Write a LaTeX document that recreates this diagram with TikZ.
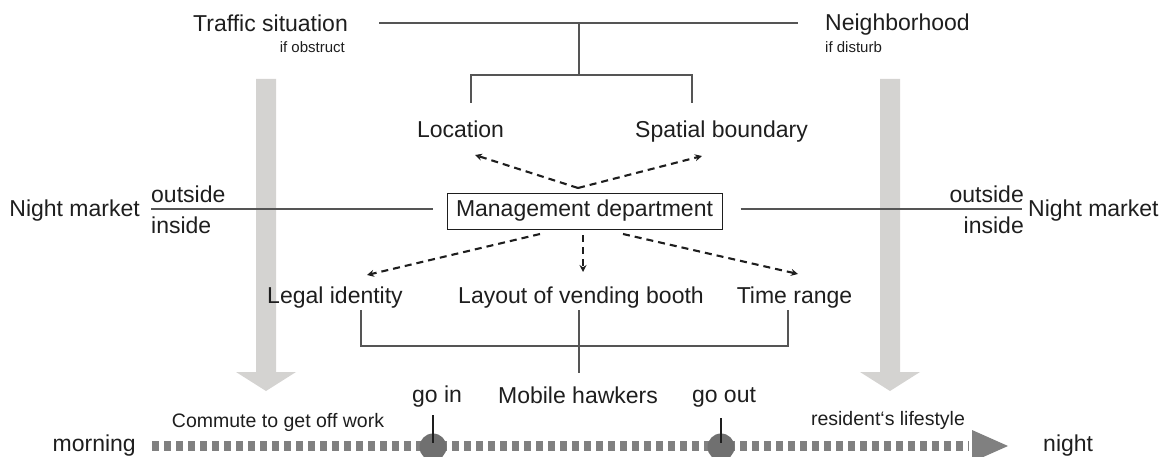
\documentclass[tikz,border=0pt]{standalone}
\usepackage{fontspec}
\setmainfont{Liberation Sans}
\usetikzlibrary{arrows.meta}
\definecolor{inkc}{HTML}{1E1E1E}
\definecolor{rulec}{HTML}{555555}
\definecolor{flowc}{HTML}{D4D3D1}
\definecolor{timec}{HTML}{808080}
\definecolor{dotc}{HTML}{707070}
\tikzset{
  lbl/.style={inner sep=0pt, text=inkc, font=\fontsize{23}{27}\selectfont, anchor=base},
  lblmid/.style={lbl, font=\fontsize{19.5}{23}\selectfont},
  lblsmall/.style={lbl, font=\fontsize{15}{18}\selectfont},
  rule/.style={draw=rulec, line width=1.2pt},
  dasharrow/.style={draw=inkc, line width=2.1pt, dash pattern=on 7pt off 5pt,
    -{Stealth[length=7pt,width=7pt]}},
  flow/.style={fill=flowc, draw=none},
  timeline/.style={draw=timec, line width=10pt, dash pattern=on 7pt off 5pt},
  event/.style={circle, fill=dotc, draw=none, minimum size=27pt, inner sep=0pt},
  tick/.style={draw=inkc, line width=1.2pt},
}
\begin{document}
\begin{tikzpicture}[x=1pt, y=-1pt]
\useasboundingbox (0,0) rectangle (1174,457);

% broad grey flow arrows (morning to night)
\fill[flow] (256,79) -- (276,79) -- (276,372) -- (296,372) -- (266,391) -- (236,372) -- (256,372) -- cycle;
\fill[flow] (880,79) -- (900,79) -- (900,372) -- (920,372) -- (890,391) -- (860,372) -- (880,372) -- cycle;

% top row
\node[lbl] (traffic) at (270.5,32) {Traffic situation};
\node[lblsmall, anchor=base east] (obstruct) at (345,53) {if obstruct};
\node[lbl, anchor=base west] (neigh) at (825,31) {Neighborhood};
\node[lblsmall, anchor=base west] (disturb) at (825,53) {if disturb};
\coordinate (topL) at (379,23);
\coordinate (topR) at (798,23);
\coordinate (topM) at (579,23);
\coordinate (brkM) at (579,75);
\draw[rule] (topL) -- (topR);
\draw[rule] (topM) -- (brkM);

% spatial aspects
\node[lbl] (loc) at (460.5,138) {Location};
\node[lbl] (spat) at (721.5,138) {Spatial boundary};
\coordinate (locT) at (471,103);
\coordinate (spatT) at (692,103);
\draw[rule] (locT) |- (brkM) -| (spatT);

% management
\node[draw=inkc, line width=1pt, minimum width=275pt, minimum height=36pt,
      inner sep=0pt, text=inkc, font=\fontsize{23}{27}\selectfont]
      (mgmt) at (584.5,211) {Management department};
\coordinate (apex) at (578,188);
\coordinate (locA) at (475,155);
\coordinate (spatA) at (702,156);
\draw[dasharrow] (apex) -- (locA);
\draw[dasharrow] (apex) -- (spatA);

% night market boundaries
\node[lbl, anchor=base east] (nmL) at (140,216) {Night market};
\node[lbl, anchor=base west] (outL) at (151,202) {outside};
\node[lbl, anchor=base west] (inL) at (151,233) {inside};
\node[lbl, anchor=base west] (nmR) at (1028,216) {Night market};
\node[lbl, anchor=base east] (outR) at (1024,202) {outside};
\node[lbl, anchor=base east] (inR) at (1024,233) {inside};
\coordinate (lineL) at (151,209);
\coordinate (lineR) at (1022,209);
\draw[rule] (lineL) -- ([xshift=-14pt]mgmt.west |- lineL);
\draw[rule] ([xshift=18pt]mgmt.east |- lineR) -- (lineR);

% regulated items
\node[lbl] (legal) at (335,303) {Legal identity};
\node[lbl] (layout) at (581,303) {Layout of vending booth};
\node[lbl] (trange) at (794.5,303) {Time range};
\coordinate (dL0) at (540,234);
\coordinate (dM0) at (583,235);
\coordinate (dR0) at (623,234);
\coordinate (dL1) at (367,275);
\coordinate (dM1) at (583,272);
\coordinate (dR1) at (798,274);
\draw[dasharrow] (dL0) -- (dL1);
\draw[dasharrow] (dM0) -- (dM1);
\draw[dasharrow] (dR0) -- (dR1);

% hawkers bracket
\coordinate (bL) at (361,310);
\coordinate (bM) at (579,310);
\coordinate (bR) at (788,310);
\coordinate (bJ) at (579,346);
\coordinate (bH) at (579,373);
\draw[rule] (bL) |- (bJ) -| (bR);
\draw[rule] (bM) -- (bH);
\node[lbl] (hawkers) at (578,403) {Mobile hawkers};
\node[lbl] (goin) at (437,402) {go in};
\node[lbl] (goout) at (724,402) {go out};

% time line
\node[lbl, anchor=base east] (morning) at (136,451) {morning};
\node[lbl, anchor=base west] (night) at (1043,451) {night};
\node[lblmid] (commute) at (278,427) {Commute to get off work};
\node[lblmid] (resid) at (888,425) {resident‘s lifestyle};
\coordinate (tStart) at (152,446);
\coordinate (tEnd) at (969,446);
\draw[timeline] (tStart) -- (tEnd);
\fill[timec] (972,430) -- (1008,446) -- (972,462) -- cycle;
\node[event] (inDot) at (433,447) {};
\node[event] (outDot) at (721,447) {};
\coordinate (inTick) at (433,415);
\coordinate (outTick) at (721,418);
\draw[tick] (inTick) -- ([yshift=4pt]inDot.center);
\draw[tick] (outTick) -- ([yshift=4pt]outDot.center);
\end{tikzpicture}
\end{document}
